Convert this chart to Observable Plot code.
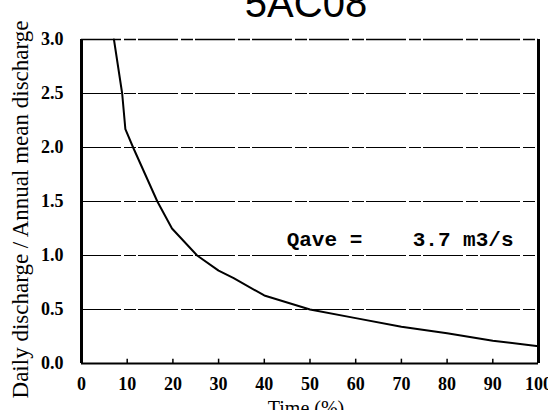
<!DOCTYPE html>
<html>
<head>
<meta charset="utf-8">
<script src="https://cdn.jsdelivr.net/npm/d3@7"></script>
<script src="https://cdn.jsdelivr.net/npm/@observablehq/plot@0.6"></script>
<style>
  html, body { margin: 0; padding: 0; background: white; overflow: hidden; }
  .serifticks, .serifticks text { font-family: 'Liberation Serif', 'DejaVu Serif', serif !important; }
</style>
</head>
<body>
<div id="chart"></div>
<script>
// Flow duration curve data
const timePct   = [7.1, 8.9, 9.6, 11.3, 16.6, 19.8, 25.3, 30, 33.3, 40, 50, 60, 70, 80, 90, 100];
const ratio     = [3.0, 2.5, 2.17, 2.0, 1.5, 1.25, 1.0, 0.86, 0.79, 0.63, 0.50, 0.42, 0.34, 0.28, 0.21, 0.16];
const xTicks    = [0, 10, 20, 30, 40, 50, 60, 70, 80, 90, 100];
const yTicks    = [0, 0.5, 1.0, 1.5, 2.0, 2.5, 3.0];
const gridY     = [0.5, 1.0, 1.5, 2.0, 2.5];
const innerTicks = [10, 20, 30, 40, 50, 60, 70, 80, 90];
const title     = "5AC08";
const xLabel    = "Time (%)";
const yLabel    = "Daily discharge / Annual mean discharge";
const note      = "Qave =\u00a0\u00a0\u00a0\u00a03.7 m3/s";

const points = timePct.map((t, i) => ({t, r: ratio[i]}));
const serif = "'Liberation Serif', 'DejaVu Serif', serif";

const chart = Plot.plot({
  width: 548,
  height: 410,
  marginLeft: 81,
  marginRight: 10,
  marginTop: 39,
  marginBottom: 47,
  x: {domain: [0, 100]},
  y: {domain: [0, 3]},
  style: {background: "white", color: "black", fontFamily: serif, overflow: "visible"},
  marks: [
    Plot.ruleY(gridY, {stroke: "black", strokeWidth: 1.2, strokeDasharray: "40,3,12,2"}),
    Plot.ruleY([3], {stroke: "black", strokeWidth: 1.5, strokeDasharray: "40,3,12,2"}),
    Plot.ruleY([0], {stroke: "black", strokeWidth: 2}),
    Plot.ruleX([0, 100], {stroke: "black", strokeWidth: 3}),
    Plot.ruleX(innerTicks, {y1: 0, y2: 0.04, stroke: "black", strokeWidth: 1.5}),
    Plot.line(points, {x: "t", y: "r", stroke: "black", strokeWidth: 2}),
    Plot.axisY(yTicks, {tickSize: 0, tickPadding: 18, tickFormat: d => d.toFixed(1), fontSize: 18, fontWeight: "bold", fontFamily: serif, className: "serifticks", label: null}),
    Plot.axisX(xTicks, {tickSize: 0, tickPadding: 14, tickFormat: d => String(d), fontSize: 18, fontWeight: "bold", fontFamily: serif, className: "serifticks", label: null}),
    Plot.text([note], {x: 100, y: 1.0, text: d => d, textAnchor: "end", lineAnchor: "bottom", dx: -25, dy: -10,
      fontFamily: "'Liberation Mono', 'DejaVu Sans Mono', monospace", fontWeight: "bold", fontSize: 21}),
    Plot.text([title], {frameAnchor: "top", text: d => d, textAnchor: "middle", lineAnchor: "bottom", dy: -23, dx: -4,
      fontFamily: "'Liberation Sans', Arial, sans-serif", fontSize: 40}),
    Plot.text([xLabel], {frameAnchor: "bottom", text: d => d, textAnchor: "middle", lineAnchor: "bottom", dy: 51, dx: -4,
      fontFamily: serif, fontSize: 20}),
    Plot.text([yLabel], {frameAnchor: "left", text: d => d, rotate: -90, textAnchor: "middle", lineAnchor: "middle", dx: -61, dy: 8,
      fontFamily: serif, fontSize: 23})
  ]
});
document.getElementById("chart").appendChild(chart);
</script>
</body>
</html>
